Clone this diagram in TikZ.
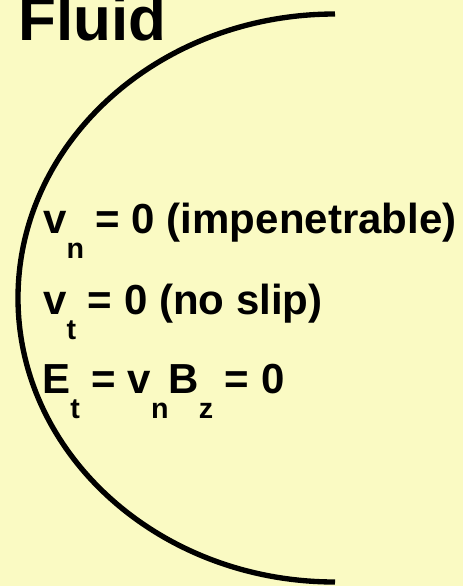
\documentclass[tikz,border=0pt]{standalone}
\usepackage{fontspec}
\setmainfont{Liberation Sans}
\definecolor{paper}{RGB}{250,250,195}
\newcommand{\lowsub}[1]{\raisebox{-18.75pt}{\fontsize{21.5}{21.5}\selectfont #1}}

\begin{document}
\begin{tikzpicture}[
  x=0.75pt, y=-0.75pt,
  title/.style={font=\fontsize{46.5}{50}\selectfont\bfseries, anchor=base west, inner sep=0pt},
  rule/.style={font=\fontsize{31.5}{36}\selectfont\bfseries, anchor=base west, inner sep=0pt},
  wall/.style={line width=4pt}
]
\useasboundingbox (0,0) rectangle (463,586);
\clip (0,0) rectangle (463,586);
\fill[paper] (0,0) rectangle (463,586);
% boundary
\draw[wall] (335,582) arc[start angle=90, end angle=270, x radius=317, y radius=284];
\node[title] (fluid) at (18,40) {Fluid};
\node[rule] (vn) at (43,233) {v\lowsub{n} = 0 (impenetrable)};
\node[rule] (vt) at (43,314) {v\lowsub{t} = 0 (no slip)};
\node[rule] (et) at (42,393) {E\lowsub{t} = v\lowsub{n}B\lowsub{z} = 0};
\end{tikzpicture}
\end{document}
